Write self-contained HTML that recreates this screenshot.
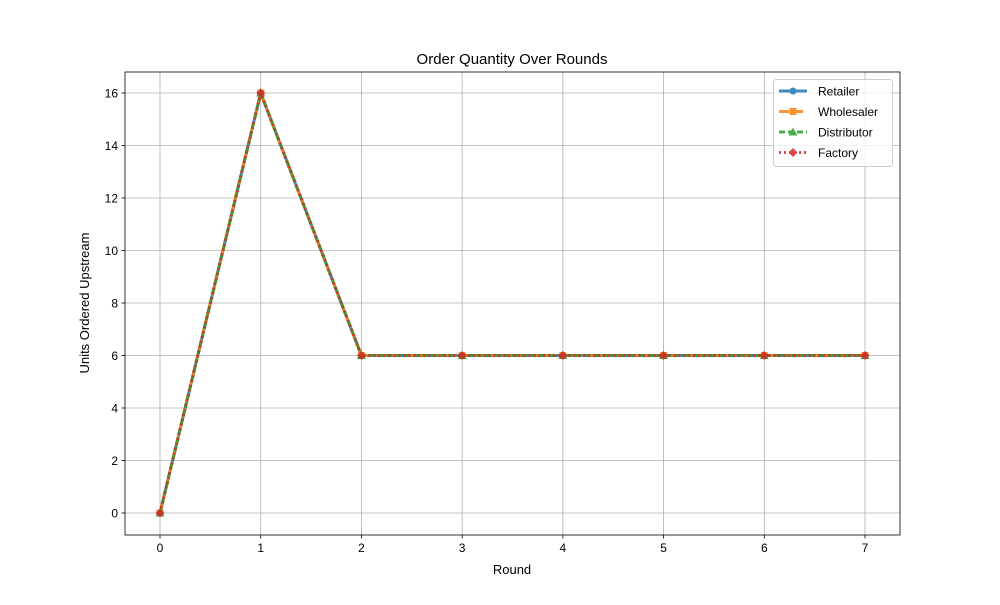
<!DOCTYPE html>
<html><head><meta charset="utf-8"><style>
body{margin:0;background:#fff;font-family:"Liberation Sans",sans-serif}
svg text{font-family:"Liberation Sans",sans-serif;fill:#000}
</style></head><body>
<svg id="c" width="1000" height="600" xmlns="http://www.w3.org/2000/svg"></svg>
<script>
const rounds=[0,1,2,3,4,5,6,7];
const retailer=[0,16,6,6,6,6,6,6];
const wholesaler=[0,16,6,6,6,6,6,6];
const distributor=[0,16,6,6,6,6,6,6];
const factory=[0,16,6,6,6,6,6,6];
const xTicks=[0,1,2,3,4,5,6,7];
const yTicks=[0,2,4,6,8,10,12,14,16];
const seriesNames=["Retailer","Wholesaler","Distributor","Factory"];

const NS="http://www.w3.org/2000/svg";
const svg=document.getElementById('c');
const L=125,R=900,T=72,B=535;
const x=v=>160+(v-0)*(865-160)/7;
const y=v=>513-v*(513-93)/16;
function el(tag,attrs,parent){const e=document.createElementNS(NS,tag);for(const k in attrs)e.setAttribute(k,attrs[k]);(parent||svg).appendChild(e);return e;}
function txt(s,attrs,parent){const e=el('text',attrs,parent);e.textContent=s;return e;}

const grid=el('g',{});


xTicks.forEach(t=>{el('line',{x1:x(t),x2:x(t),y1:T,y2:B,stroke:'#b0b0b0','stroke-width':0.8},grid);});
yTicks.forEach(t=>{el('line',{x1:L,x2:R,y1:y(t),y2:y(t),stroke:'#b0b0b0','stroke-width':0.8},grid);});

const xa=el('g',{});


xTicks.forEach(t=>{el('line',{x1:x(t),x2:x(t),y1:B,y2:B+3.5,stroke:'#000','stroke-width':0.8},xa);
 txt(String(t),{x:x(t),y:B+17,'text-anchor':'middle','font-size':12},xa);});
const ya=el('g',{});


yTicks.forEach(t=>{el('line',{x1:L-3.5,x2:L,y1:y(t),y2:y(t),stroke:'#000','stroke-width':0.8},ya);
 txt(String(t),{x:L-7,y:y(t)+4.5,'text-anchor':'end','font-size':12},ya);});

const xt=txt('Round',{x:512,y:574,'text-anchor':'middle','font-size':13});


const yt=txt('Units Ordered Upstream',{x:0,y:0,'text-anchor':'middle','font-size':13,transform:'translate(89,303) rotate(-90)'});


const ti=txt('Order Quantity Over Rounds',{x:512,y:64,'text-anchor':'middle','font-size':15});



const styles=[
 {c:'#1f77b4',dash:'',m:'circle'},
 {c:'#ff7f0e',dash:'10,4',m:'square'},
 {c:'#2ca02c',dash:'6,3',m:'triangle'},
 {c:'#d62728',dash:'2,3',m:'diamond'}];
function marker(type,cx,cy,c,p){
 if(type==='circle')return el('circle',{cx,cy,r:3.5,fill:c},p);
 if(type==='square')return el('rect',{x:cx-3.5,y:cy-3.5,width:7,height:7,fill:c},p);
 if(type==='triangle')return el('polygon',{points:`${cx},${cy-4.5} ${cx+4.5},${cy+3.5} ${cx-4.5},${cy+3.5}`,fill:c},p);
 return el('polygon',{points:`${cx},${cy-4.5} ${cx+4.5},${cy} ${cx},${cy+4.5} ${cx-4.5},${cy}`,fill:c},p);
}
const data=[retailer,wholesaler,distributor,factory];
data.forEach((d,i)=>{
 const g=el('g',{opacity:0.85});
 
 
 const pts=d.map((v,j)=>x(rounds[j])+','+y(v)).join(' ');
 const pl=el('polyline',{points:pts,fill:'none',stroke:styles[i].c,'stroke-width':3,'stroke-dasharray':styles[i].dash},g);
 d.forEach((v,j)=>{const m=marker(styles[i].m,x(rounds[j]),y(v),styles[i].c,g);
  
  });
});

const frame=el('rect',{x:L,y:T,width:R-L,height:B-T,fill:'none',stroke:'#000','stroke-width':0.8});



const lg=el('g',{});


el('rect',{x:773.5,y:79.5,width:119,height:87,rx:3,fill:'#fff','fill-opacity':0.8,stroke:'#ccc'},lg);
seriesNames.forEach((n,i)=>{
 const ly=91+i*20.5;
 const e=el('g',{opacity:0.85},lg);
 
 
 el('line',{x1:779,x2:807,y1:ly,y2:ly,stroke:styles[i].c,'stroke-width':3,'stroke-dasharray':styles[i].dash},e);
 marker(styles[i].m,793,ly,styles[i].c,e);
 txt(n,{x:818,y:ly+4.5,'font-size':12},lg);
});
</script>
</body></html>
